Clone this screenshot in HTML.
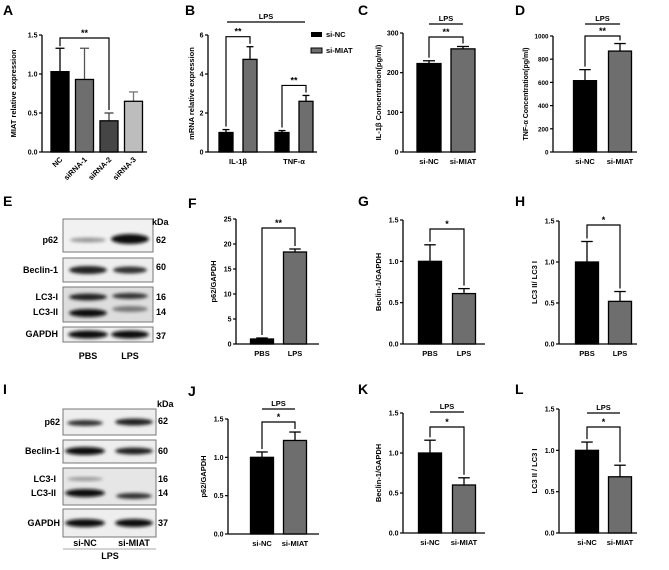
<!DOCTYPE html>
<html><head><meta charset="utf-8">
<style>
html,body{margin:0;padding:0;background:#fff;}
svg{display:block;font-family:"Liberation Sans",Arial,sans-serif;font-weight:bold;}
</style></head>
<body>
<svg id="fig" width="669" height="570" viewBox="0 0 669 570" xmlns="http://www.w3.org/2000/svg">
<defs>
<filter id="blur" x="-20%" y="-50%" width="140%" height="200%"><feGaussianBlur stdDeviation="1.6"/></filter>
</defs>
<g id="letters" font-size="14">
<text x="3" y="15">A</text><text x="185" y="15">B</text><text x="358" y="15">C</text><text x="515" y="15">D</text>
<text x="3" y="206">E</text><text x="188" y="208">F</text><text x="358" y="206">G</text><text x="515" y="206">H</text>
<text x="3" y="394">I</text><text x="188" y="396">J</text><text x="358" y="394">K</text><text x="515" y="394">L</text>
</g>

<!-- Western blot E -->
<g font-size="9">
<rect x="63" y="219" width="90" height="33" fill="#f1f1f1" stroke="#777"/>
<ellipse cx="88" cy="240" rx="18" ry="2.5" fill="#999" filter="url(#blur)"/>
<ellipse cx="130" cy="239" rx="19" ry="5" fill="#111" filter="url(#blur)"/>
<rect x="63" y="258" width="90" height="24" fill="#eee" stroke="#777"/>
<ellipse cx="88" cy="270" rx="19" ry="4" fill="#222" filter="url(#blur)"/>
<ellipse cx="130" cy="270" rx="17" ry="3.5" fill="#333" filter="url(#blur)"/>
<rect x="63" y="287" width="90" height="35" fill="#ddd" stroke="#777"/>
<ellipse cx="88" cy="297" rx="19" ry="3.5" fill="#222" filter="url(#blur)"/>
<ellipse cx="130" cy="296" rx="18" ry="3" fill="#333" filter="url(#blur)"/>
<ellipse cx="88" cy="313" rx="19" ry="4" fill="#111" filter="url(#blur)"/>
<ellipse cx="130" cy="309" rx="18" ry="3" fill="#777" filter="url(#blur)"/>
<rect x="63" y="327" width="90" height="15" fill="#eee" stroke="#777"/>
<ellipse cx="88" cy="334.5" rx="20" ry="4" fill="#111" filter="url(#blur)"/>
<ellipse cx="130" cy="334.5" rx="19" ry="4" fill="#111" filter="url(#blur)"/>
<g text-anchor="end"><text x="58" y="243">p62</text><text x="58" y="273">Beclin-1</text><text x="58" y="300">LC3-I</text><text x="58" y="315">LC3-II</text><text x="58" y="337">GAPDH</text></g>
<text x="152" y="225">kDa</text><text x="156" y="243">62</text><text x="156" y="270">60</text><text x="156" y="300">16</text><text x="156" y="315">14</text><text x="156" y="339">37</text>
<text x="88" y="359" text-anchor="middle">PBS</text><text x="130" y="359" text-anchor="middle">LPS</text>
</g>

<!-- Western blot I -->
<g font-size="9">
<rect x="63" y="409" width="93" height="26" fill="#eee" stroke="#777"/>
<ellipse cx="85" cy="423" rx="18" ry="3" fill="#333" filter="url(#blur)"/>
<ellipse cx="134" cy="422" rx="19" ry="3.5" fill="#222" filter="url(#blur)"/>
<rect x="63" y="440" width="93" height="23" fill="#eee" stroke="#777"/>
<ellipse cx="85" cy="451" rx="20" ry="4" fill="#111" filter="url(#blur)"/>
<ellipse cx="134" cy="451" rx="19" ry="3.5" fill="#222" filter="url(#blur)"/>
<rect x="63" y="468" width="93" height="37" fill="#e6e6e6" stroke="#777"/>
<ellipse cx="85" cy="479" rx="18" ry="2" fill="#999" filter="url(#blur)"/>
<ellipse cx="85" cy="493" rx="20" ry="4" fill="#111" filter="url(#blur)"/>
<ellipse cx="134" cy="496" rx="18" ry="3" fill="#333" filter="url(#blur)"/>
<rect x="63" y="509" width="93" height="28" fill="#eee" stroke="#777"/>
<ellipse cx="85" cy="523" rx="20" ry="4" fill="#111" filter="url(#blur)"/>
<ellipse cx="134" cy="523" rx="19" ry="4" fill="#111" filter="url(#blur)"/>
<g text-anchor="end"><text x="60" y="425">p62</text><text x="60" y="454">Beclin-1</text><text x="56" y="482">LC3-I</text><text x="56" y="496">LC3-II</text><text x="60" y="526">GAPDH</text></g>
<text x="157" y="407">kDa</text><text x="158" y="424">62</text><text x="158" y="454">60</text><text x="158" y="482">16</text><text x="158" y="496">14</text><text x="158" y="526">37</text>
<text x="85" y="546" text-anchor="middle">si-NC</text><text x="134" y="546" text-anchor="middle">si-MIAT</text>
<line x1="63" y1="549" x2="156" y2="549" stroke="#aaa" stroke-width="1"/>
<text x="110" y="559" text-anchor="middle">LPS</text>
</g>

<g id="charts"></g>
</svg>
<script>
// ---- data arrays ----
const aCats = ["NC","siRNA-1","siRNA-2","siRNA-3"];
const aVals = [1.03,0.93,0.40,0.65];
const aErrs = [1.33,1.33,0.50,0.77];
const aTicks = [0.0,0.5,1.0,1.5];

const bCats = ["IL-1β","TNF-α"];
const bNC = [1.0,1.0];
const bMIAT = [4.75,2.6];
const bNCErr = [1.15,1.1];
const bMIATErr = [5.4,2.9];
const bTicks = [0,2,4,6];

const cCats = ["si-NC","si-MIAT"];
const cVals = [223,260];
const cErrs = [230,266];
const cTicks = [0,100,200,300];

const dCats = ["si-NC","si-MIAT"];
const dVals = [615,870];
const dErrs = [710,935];
const dTicks = [0,200,400,600,800,1000];

const fCats = ["PBS","LPS"];
const fVals = [1.0,18.4];
const fErrs = [1.2,19.0];
const fTicks = [0,5,10,15,20,25];

const gCats = ["PBS","LPS"];
const gVals = [1.0,0.61];
const gErrs = [1.2,0.67];
const gTicks = [0.0,0.5,1.0,1.5];

const hCats = ["PBS","LPS"];
const hVals = [1.0,0.52];
const hErrs = [1.25,0.64];
const hTicks = [0.0,0.5,1.0,1.5];

const jCats = ["si-NC","si-MIAT"];
const jVals = [1.0,1.22];
const jErrs = [1.07,1.33];
const jTicks = [0.0,0.5,1.0,1.5];

const kCats = ["si-NC","si-MIAT"];
const kVals = [1.0,0.60];
const kErrs = [1.16,0.69];
const kTicks = [0.0,0.5,1.0,1.5];

const lCats = ["si-NC","si-MIAT"];
const lVals = [1.0,0.68];
const lErrs = [1.10,0.82];
const lTicks = [0.0,0.5,1.0,1.5];

const NS = "http://www.w3.org/2000/svg";
const root = document.getElementById("charts");
function mk(tag, attrs, parent){
  const e = document.createElementNS(NS, tag);
  for (const k in attrs) e.setAttribute(k, attrs[k]);
  (parent||root).appendChild(e);
  return e;
}
function fmt(t, dec){ return dec ? t.toFixed(1) : String(t); }

function panel(id, c){
  const g = mk("g", {});
  
  
  const max = c.ticks[c.ticks.length-1];
  const y = v => c.y0 - v/max*(c.y0-c.yTop);
  const ya = mk("line",{x1:c.x0,y1:c.yTop,x2:c.x0,y2:c.y0,stroke:"#000","stroke-width":1.3},g);
  
  
  const xa = mk("line",{x1:c.x0,y1:c.y0,x2:c.x1,y2:c.y0,stroke:"#000","stroke-width":1.3},g);
  
  
  const tfs = c.tfs || 7;
  c.ticks.forEach(t=>{
    mk("line",{x1:c.x0-3,y1:y(t),x2:c.x0,y2:y(t),stroke:"#000","stroke-width":1.2},g);
    const tl = mk("text",{x:c.x0-4.5,y:y(t)+2.5,"font-size":tfs,"text-anchor":"end"},g);
    tl.textContent = fmt(t,c.dec);
    
    
  });
  const yl = mk("text",{transform:`translate(${c.ylx},${(c.y0+c.yTop)/2}) rotate(-90)`,"font-size":c.ylfs||7.5,"text-anchor":"middle"},g);
  yl.textContent = c.ylabel;
  
  
  c.bars.forEach(b=>{
    const top = y(b.v), et = y(b.e);
    mk("line",{x1:b.x,y1:et,x2:b.x,y2:top,stroke:b.ec||"#000","stroke-width":1.3},g);
    mk("line",{x1:b.x-b.w/4,y1:et,x2:b.x+b.w/4,y2:et,stroke:b.ec||"#000","stroke-width":1.3},g);
    const r = mk("rect",{x:b.x-b.w/2,y:top,width:b.w,height:c.y0-top,fill:b.fill,stroke:"#000","stroke-width":1.3},g);
    
    
  });
  c.cats.forEach(cl=>{
    let t;
    if (c.rot){
      t = mk("text",{transform:`translate(${cl.x+3},${c.y0+8}) rotate(-45)`,"font-size":7.5,"text-anchor":"end"},g);
    } else {
      t = mk("text",{x:cl.x,y:c.y0+12,"font-size":7.5,"text-anchor":"middle"},g);
    }
    t.textContent = cl.label;
    
    
  });
  (c.brackets||[]).forEach(br=>{
    mk("polyline",{points:`${br.xa},${br.ya} ${br.xa},${br.y} ${br.xb},${br.y} ${br.xb},${br.yb}`,fill:"none",stroke:"#000","stroke-width":1.2},g);
    const s = mk("text",{x:(br.xa+br.xb)/2,y:br.y-2,"font-size":9,"text-anchor":"middle"},g);
    s.textContent = br.s;
    
    
  });
  if (c.lps){
    mk("line",{x1:c.lps.xa,y1:c.lps.y,x2:c.lps.xb,y2:c.lps.y,stroke:"#000","stroke-width":1.2},g);
    const t = mk("text",{x:(c.lps.xa+c.lps.xb)/2,y:c.lps.y-3,"font-size":7.5,"text-anchor":"middle"},g);
    t.textContent = "LPS";
    
    
  }
  return {g,y};
}

const FILLS_A = ["#000","#6e6e6e","#454545","#bdbdbd"];
const ECS_A = ["#000","#555","#444","#777"];
const GREY = "#6e6e6e";

(function(){
  const cfg = {x0:42,x1:147,y0:152,yTop:35,ticks:aTicks,dec:true,ylx:16,ylabel:"MIAT relative expression",rot:true};
  const yy = v => cfg.y0 - v/1.5*(cfg.y0-cfg.yTop);
  cfg.bars = aCats.map((c,i)=>({name:c,x:60+i*24.5,w:18,v:aVals[i],e:aErrs[i],fill:FILLS_A[i],ec:ECS_A[i]}));
  cfg.cats = aCats.map((c,i)=>({label:c,x:60+i*24.5}));
  cfg.brackets = [{xa:60,xb:60+2*24.5,y:38,ya:yy(aErrs[0])-2,yb:yy(aErrs[2])-3,s:"**"}];
  panel("panel-a-miat-expression", cfg);
})();

(function(){
  const cfg = {x0:208,x1:317,y0:152,yTop:35,ticks:bTicks,ylx:194,ylabel:"mRNA relative expression"};
  const yy = v => cfg.y0 - v/6*(cfg.y0-cfg.yTop);
  const gx = [238,294];
  cfg.bars = [];
  bCats.forEach((c,i)=>{
    cfg.bars.push({name:c+"-si-NC",x:gx[i]-12,w:14,v:bNC[i],e:bNCErr[i],fill:"#000"});
    cfg.bars.push({name:c+"-si-MIAT",x:gx[i]+12,w:14,v:bMIAT[i],e:bMIATErr[i],fill:GREY});
  });
  cfg.cats = bCats.map((c,i)=>({label:c,x:gx[i]}));
  cfg.brackets = bCats.map((c,i)=>({xa:gx[i]-12,xb:gx[i]+12,y:Math.min(yy(bMIATErr[i])-10,yy(bNCErr[i])-10),ya:yy(bNCErr[i])-3,yb:yy(bMIATErr[i])-3,s:"**"}));
  cfg.lps = {xa:227,xb:305,y:22};
  const p = panel("panel-b-mrna-expression", cfg);
  const lg = mk("g",{}, p.g);
  
  
  mk("rect",{x:311,y:32,width:11,height:5,fill:"#000"},lg);
  mk("rect",{x:311,y:48,width:11,height:5,fill:GREY,stroke:"#000","stroke-width":1},lg);
  const t1 = mk("text",{x:326,y:37,"font-size":7.5},lg); t1.textContent="si-NC";
  
  
  const t2 = mk("text",{x:326,y:53,"font-size":7.5},lg); t2.textContent="si-MIAT";
  
  
})();

function twoBar(id, cats, vals, errs, ticks, geo){
  const cfg = {x0:geo.x0,x1:geo.x1,y0:geo.y0,yTop:geo.yTop,ticks:ticks,dec:geo.dec,ylx:geo.ylx,ylabel:geo.ylabel,ylfs:geo.ylfs,tfs:geo.tfs};
  const max = ticks[ticks.length-1];
  const yy = v => cfg.y0 - v/max*(cfg.y0-cfg.yTop);
  cfg.bars = cats.map((c,i)=>({name:c,x:geo.cx[i],w:geo.w,v:vals[i],e:errs[i],fill:i==0?"#000":GREY}));
  cfg.cats = cats.map((c,i)=>({label:c,x:geo.cx[i]}));
  cfg.brackets = [{xa:geo.cx[0],xb:geo.cx[1],y:geo.by,ya:yy(errs[0])-3,yb:yy(errs[1])-3,s:geo.s}];
  if (geo.lps) cfg.lps = {xa:geo.cx[0],xb:geo.cx[1],y:geo.lps};
  panel(id, cfg);
}

twoBar("panel-c-il1b", cCats, cVals, cErrs, cTicks, {x0:403,x1:472,y0:152,yTop:33,ylx:381,ylabel:"IL-1β Concentration(pg/ml)",cx:[429,463],w:24,by:37,s:"**",lps:24,ylfs:7.5});
twoBar("panel-d-tnfa", dCats, dVals, dErrs, dTicks, {x0:553,x1:637,y0:152,yTop:36,ylx:528,ylabel:"TNF-α Concentration(pg/ml)",cx:[585,620],w:23,by:36,s:"**",lps:24,ylfs:7,tfs:6.3});
twoBar("panel-f-p62", fCats, fVals, fErrs, fTicks, {x0:236,x1:319,y0:344,yTop:219,ylx:216,ylabel:"p62/GAPDH",cx:[262,295],w:23,by:228,s:"**"});
twoBar("panel-g-beclin", gCats, gVals, gErrs, gTicks, {x0:403,x1:485,y0:344,yTop:220,dec:true,ylx:381,ylabel:"Beclin-1/GAPDH",cx:[430,464],w:23,by:229,s:"*"});
twoBar("panel-h-lc3", hCats, hVals, hErrs, hTicks, {x0:559,x1:637,y0:344,yTop:221,dec:true,ylx:537,ylabel:"LC3 II/ LC3 I",cx:[587,620],w:23,by:225,s:"*"});
twoBar("panel-j-p62", jCats, jVals, jErrs, jTicks, {x0:228,x1:319,y0:534,yTop:419,dec:true,ylx:206,ylabel:"p62/GAPDH",cx:[262,295],w:23,by:422,s:"*",lps:409});
twoBar("panel-k-beclin", kCats, kVals, kErrs, kTicks, {x0:403,x1:485,y0:533,yTop:413,dec:true,ylx:381,ylabel:"Beclin-1/GAPDH",cx:[430,464],w:23,by:427,s:"*",lps:412});
twoBar("panel-l-lc3", lCats, lVals, lErrs, lTicks, {x0:559,x1:637,y0:533,yTop:409,dec:true,ylx:537,ylabel:"LC3 II / LC3 I",cx:[587,620],w:23,by:427,s:"*",lps:413});
</script>
</body></html>
